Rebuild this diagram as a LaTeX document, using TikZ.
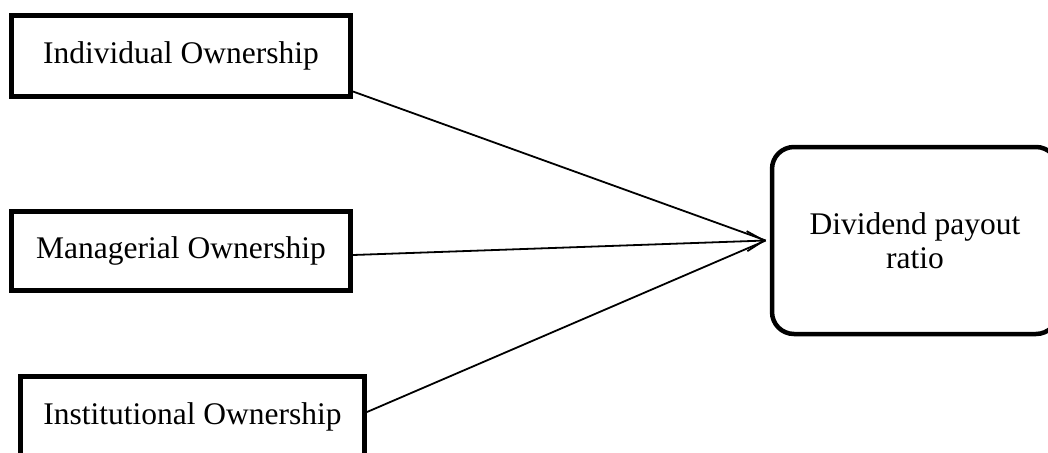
\documentclass[tikz,border=0pt]{standalone}
\usepackage{fontspec}
\setmainfont{Liberation Serif}
\usetikzlibrary{arrows.meta}
\begin{document}
\begin{tikzpicture}[x=1pt,y=-1pt,
  varbox/.style={draw=black, line width=5pt, rectangle, inner sep=0pt,
    font=\fontsize{31.5}{34}\selectfont},
  depbox/.style={draw=black, line width=4.5pt, rectangle, rounded corners=22pt,
    inner sep=0pt, align=center, font=\fontsize{31.5}{34}\selectfont},
  link/.style={draw=black, line width=1.8pt}
]
\useasboundingbox (0,0) rectangle (1048,452);
\clip (0,0) rectangle (1048,452);
\node[varbox, minimum width=339pt, minimum height=81pt] (ind) at (181,56) {Individual Ownership};
\node[varbox, minimum width=339pt, minimum height=79pt] (man) at (181,251) {Managerial Ownership};
\node[varbox, minimum width=344pt, minimum height=81pt] (inst) at (192.5,417) {Institutional Ownership};
\node[depbox, minimum width=286pt, minimum height=187pt] (div) at (915,240.5) {Dividend payout\\ratio};
\coordinate (tip) at ([xshift=-4pt]div.west);
\draw[link] ([yshift=7.5pt]ind.south east) -- (tip);
\draw[link,-{Straight Barb[length=17pt,width=20pt,line width=1.8pt]}] ([yshift=-4pt]man.east) -- (tip);
\draw[link] ([yshift=5pt]inst.east) -- (tip);
\end{tikzpicture}
\end{document}
